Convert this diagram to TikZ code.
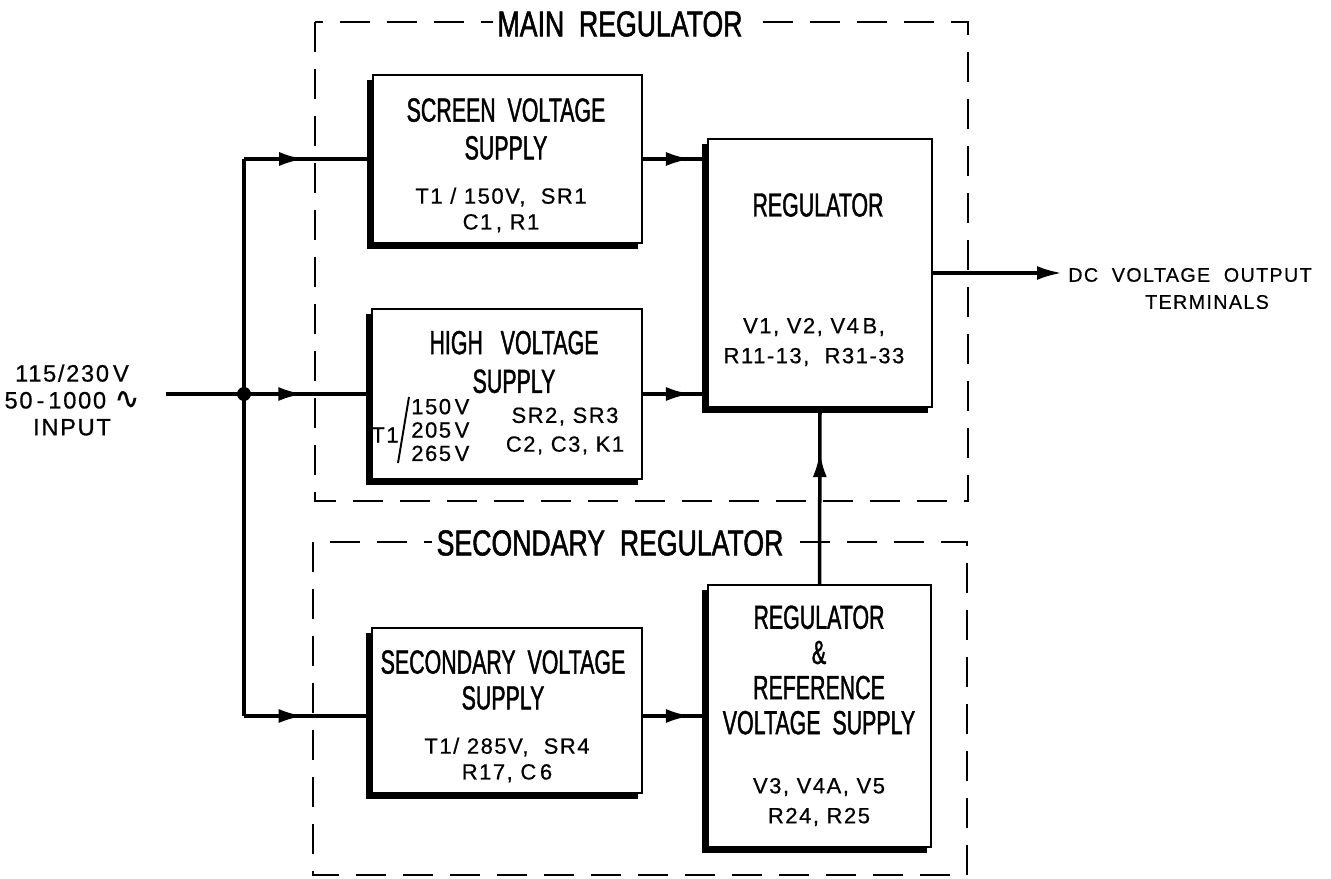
\documentclass[tikz,border=0pt]{standalone}
\usepackage{fontspec}
\setmainfont{Liberation Sans}
\newfontfamily\blkfont[FakeStretch=0.64, FakeBold=1.2]{Liberation Sans}
\newfontfamily\frmfont[FakeStretch=0.74, FakeBold=1.4]{Liberation Sans}
\newfontfamily\partfont[LetterSpace=7, FakeBold=0.6]{Liberation Sans}
\newfontfamily\symfont[FakeBold=0.6]{DejaVu Sans}
\usetikzlibrary{arrows.meta,calc,positioning,decorations.markings}

\begin{document}
\begin{tikzpicture}[x=0.2mm, y=-0.2mm,
    blk/.style={rectangle, draw, line width=1.2pt, inner sep=0pt},
    heavy/.style={line width=3.2pt},
    frame/.style={line width=1.6pt, dash pattern=on 6mm off 3.4mm},
    frametitle/.style={fill=white, inner xsep=1mm, inner ysep=1mm, font=\frmfont\fontsize{20.5}{24}\selectfont},
    ttl/.style={align=center, font=\blkfont\fontsize{19}{#1}\selectfont},
    ttl/.default=21.5,
    parts/.style={align=center, font=\partfont\fontsize{12.5}{#1}\selectfont},
    parts/.default=14.7,
    outlbl/.style={font=\partfont\fontsize{11.2}{14}\selectfont},
    wire/.style={line width=2pt},
    midarr/.style={postaction={decorate}, decoration={markings, mark=at position #1 with {\arrow{Latex[length=5mm, width=2.8mm]}}}},
    arr/.style={-{Latex[length=5mm, width=2.8mm]}, line width=2pt}
  ]
  \useasboundingbox (0,0) rectangle (1331,879);

  % Dashed frames
  \draw[frame] (315,22) rectangle (968,501);
  \draw[frame] (313,542) rectangle (967,875);
  \node[frametitle] (maintitle) at (620,24) {MAIN\ \ REGULATOR};
  \node[frametitle] (sectitle) at (610,543) {SECONDARY\ \ REGULATOR};

  % Blocks
  \node[blk, minimum width=53.8mm, minimum height=33.6mm] (scr) at (507.5,159) {};
  \node[blk, minimum width=54mm, minimum height=34mm] (hv) at (507,394) {};
  \node[blk, minimum width=44.8mm, minimum height=53.6mm] (reg) at (820,273) {};
  \node[blk, minimum width=54mm, minimum height=33mm] (sec) at (507,710.5) {};
  \node[blk, minimum width=44.6mm, minimum height=52.4mm] (ref) at (819.5,716) {};
  \foreach \b in {scr,hv,reg,sec,ref}
    \draw[heavy] ([shift={(-2,6)}]\b.north west) -- ([shift={(-2,2)}]\b.south west) -- ([shift={(-5,2)}]\b.south east);

  % Block texts
  \node[ttl] (scrname) at (506,129) {SCREEN\ \ VOLTAGE\\SUPPLY};
  \node[parts] (scrparts) at (501,210) {T1\ /\ 150V,\ \ SR1\\C1\,,\ R1};

  \node[ttl=22] (hvname) at (514,362) {HIGH\ \ \ VOLTAGE\\SUPPLY};
  \node[parts] (hvt) at (385,435) {T1};
  \draw[line width=1.1pt] (409,397) -- (398,463);
  \node[parts=13.3, align=left, anchor=west, inner xsep=0pt] (hvvolts) at (411,430) {150\,V\\205\,V\\265\,V};
  \node[parts=16.4] (hvparts) at (565,431) {SR2,\ SR3\\C2,\ C3,\ K1};

  \node[ttl] (regname) at (818,205) {REGULATOR};
  \node[parts=17] (regparts) at (814,342) {V1,\ V2,\ V4\,B,\\R11-13,\ \ R31-33};

  \node[ttl=20.4] (secname) at (503,680) {SECONDARY\ \ VOLTAGE\\SUPPLY};
  \node[parts] (secparts) at (507,760) {T1/\ 285V,\ \ SR4\\R17,\ C\,6};

  \node[ttl=20] (refname) at (819,670) {REGULATOR\\\&\\REFERENCE\\VOLTAGE\ \ SUPPLY};
  \node[parts=17] (refparts) at (819,802) {V3,\ V4A,\ V5\\R24,\ R25};

  % Input and output
  \node[parts=15.3, font=\partfont\fontsize{13.5}{15.3}\selectfont] (intxt) at (72,400) {115/230\,V\\50\,-\,1000\ {\symfont\fontsize{17}{15}\selectfont ∿}\\INPUT};
  \coordinate (inp) at (166,394);
  \node[circle, fill, inner sep=0pt, minimum size=2.8mm] (junc) at (244,394) {};
  \coordinate (outend) at (1062,273);
  \node[outlbl, anchor=west, inner xsep=0pt] (outtxt) at (1068,275) {DC\ \ VOLTAGE\ \ OUTPUT};
  \node[outlbl] (termtxt) at (1207,302) {TERMINALS};

  % Connectors
  \draw[wire] (junc |- scr.west) -- (junc |- ref.west);
  \draw[wire, midarr=0.47] (junc |- scr.west) -- (scr.west);
  \draw[wire, midarr=0.67] (inp) -- (hv.west);
  \draw[wire, midarr=0.47] (junc |- ref.west) -- (sec.west |- ref.west);
  \draw[wire, midarr=0.75] (scr.east) -- (scr.east -| reg.west);
  \draw[wire, midarr=0.75] (hv.east) -- (hv.east -| reg.west);
  \draw[wire, midarr=0.75] (sec.east |- ref.west) -- (ref.west);
  \draw[wire, midarr=0.75] (ref.north) -- (reg.south);
  \draw[arr] (reg.east) -- (outend);
\end{tikzpicture}
\end{document}
